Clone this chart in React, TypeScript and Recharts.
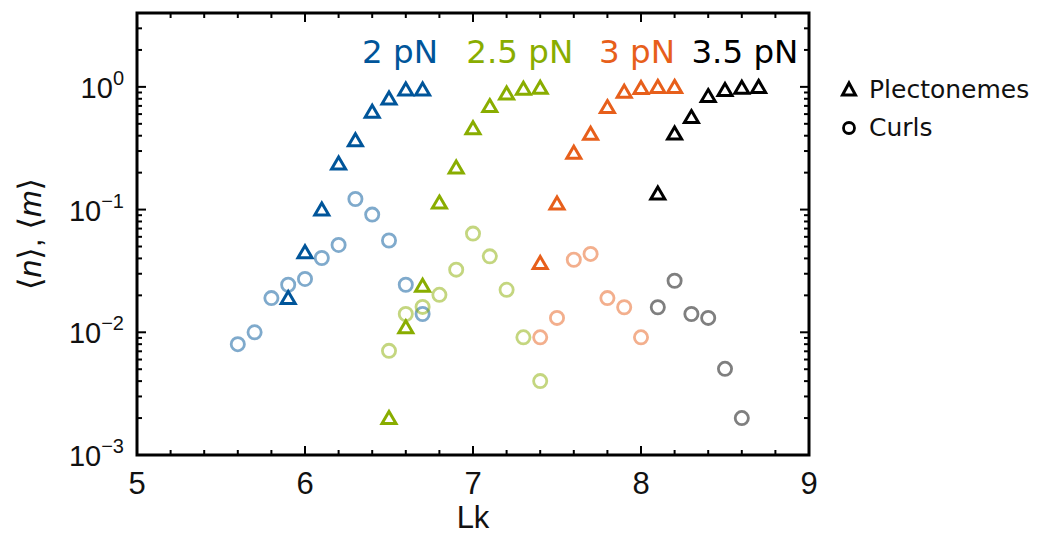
import React from 'react';
import {
  ScatterChart,
  Scatter,
  XAxis,
  YAxis,
  ReferenceArea,
  ReferenceDot,
  Legend,
} from 'recharts';

// Lk values and mean plectoneme (n) / curl (m) numbers, per force
const lk2Plect = [5.9, 6.0, 6.1, 6.2, 6.3, 6.4, 6.5, 6.6, 6.7];
const n2 = [0.019, 0.045, 0.1, 0.237, 0.368, 0.627, 0.805, 0.954, 0.954];
const lk2Curl = [5.6, 5.7, 5.8, 5.9, 6.0, 6.1, 6.2, 6.3, 6.4, 6.5, 6.6, 6.7];
const m2 = [0.008, 0.01, 0.019, 0.0244, 0.0272, 0.0403, 0.0515, 0.122, 0.091, 0.056, 0.0244, 0.0141];

const lk25Plect = [6.5, 6.6, 6.7, 6.8, 6.9, 7.0, 7.1, 7.2, 7.3, 7.4];
const n25 = [0.002, 0.011, 0.024, 0.114, 0.22, 0.46, 0.697, 0.885, 0.966, 0.985];
const lk25Curl = [6.5, 6.6, 6.7, 6.8, 6.9, 7.0, 7.1, 7.2, 7.3, 7.4];
const m25 = [0.00706, 0.0141, 0.0161, 0.0202, 0.0324, 0.0637, 0.0416, 0.0222, 0.0091, 0.004];

const lk3Plect = [7.4, 7.5, 7.6, 7.7, 7.8, 7.9, 8.0, 8.1, 8.2];
const n3 = [0.0367, 0.112, 0.29, 0.415, 0.684, 0.914, 0.978, 1.0, 1.0];
const lk3Curl = [7.4, 7.5, 7.6, 7.7, 7.8, 7.9, 8.0];
const m3 = [0.0091, 0.0131, 0.039, 0.0435, 0.019, 0.016, 0.0091];

const lk35Plect = [8.1, 8.2, 8.3, 8.4, 8.5, 8.6, 8.7];
const n35 = [0.135, 0.417, 0.567, 0.841, 0.942, 0.985, 1.0];
const lk35Curl = [8.1, 8.2, 8.3, 8.4, 8.5, 8.6];
const m35 = [0.016, 0.0263, 0.0141, 0.0131, 0.00504, 0.002];

const forceLabels = ['2 pN', '2.5 pN', '3 pN', '3.5 pN'];
const forceColors = ['#00559a', '#89ad00', '#e75f1b', '#000000'];
// where each force label starts (Lk) and its baseline (value)
const forceLabelLk = [6.34, 6.96, 7.75, 8.3];
const forceLabelY = 1.58;

const legendItems = ['Plectonemes', 'Curls'];

const xMajorTicks = [5, 6, 7, 8, 9];
const xTicks = [5, 5.2, 5.4, 5.6, 5.8, 6, 6.2, 6.4, 6.6, 6.8, 7, 7.2, 7.4, 7.6, 7.8, 8, 8.2, 8.4, 8.6, 8.8, 9];
const yMajorTicks = [0.001, 0.01, 0.1, 1];
const yMajorLabels = ['\u22123', '\u22122', '\u22121', '0'];
const yTicks = [
  0.001, 0.002, 0.003, 0.004, 0.005, 0.006, 0.007, 0.008, 0.009,
  0.01, 0.02, 0.03, 0.04, 0.05, 0.06, 0.07, 0.08, 0.09,
  0.1, 0.2, 0.3, 0.4, 0.5, 0.6, 0.7, 0.8, 0.9,
  1, 2, 3,
];

const toPoints = (xs: number[], ys: number[]) => xs.map((lk, i) => ({ lk, v: ys[i] }));

const series = [
  { plect: toPoints(lk2Plect, n2), curl: toPoints(lk2Curl, m2) },
  { plect: toPoints(lk25Plect, n25), curl: toPoints(lk25Curl, m25) },
  { plect: toPoints(lk3Plect, n3), curl: toPoints(lk3Curl, m3) },
  { plect: toPoints(lk35Plect, n35), curl: toPoints(lk35Curl, m35) },
];

const W = 1046;
const H = 536;
const M = { top: 13, right: 237, bottom: 0, left: 0 };
const Y_AXIS_W = 137;
const X_AXIS_H = 81;
const PLOT_LEFT = M.left + Y_AXIS_W;
const PLOT_RIGHT = W - M.right;
const PLOT_TOP = M.top;
const PLOT_BOTTOM = H - X_AXIS_H;

const FONT = '"Liberation Sans", "DejaVu Sans", sans-serif';
const LABEL_FONT = '"DejaVu Sans", sans-serif';

const Triangle = ({ cx, cy, color }: any) => (
  <path
    d={`M${cx},${cy - 6.5} L${cx + 7},${cy + 5.5} L${cx - 7},${cy + 5.5} Z`}
    fill="none"
    stroke={color}
    strokeWidth={3}
    strokeLinejoin="miter"
  />
);

const Ring = ({ cx, cy, color }: any) => (
  <circle cx={cx} cy={cy} r={6.6} fill="none" stroke={color} strokeOpacity={0.5} strokeWidth={2.8} />
);

const XTick = ({ x, payload }: any) => {
  const major = xMajorTicks.includes(payload.value);
  const len = major ? 9 : 5;
  return (
    <g>
      <line x1={x} x2={x} y1={PLOT_BOTTOM} y2={PLOT_BOTTOM - len} stroke="#000" strokeWidth={2} />
      <line x1={x} x2={x} y1={PLOT_TOP} y2={PLOT_TOP + len} stroke="#000" strokeWidth={2} />
      {major && (
        <text x={x} y={PLOT_BOTTOM + 39} textAnchor="middle" fontFamily={FONT} fontSize={31} fill="#111">
          {payload.value}
        </text>
      )}
    </g>
  );
};

const YTick = ({ y, payload }: any) => {
  const idx = yMajorTicks.indexOf(payload.value);
  const major = idx >= 0;
  const len = major ? 9 : 5;
  return (
    <g>
      <line x1={PLOT_LEFT} x2={PLOT_LEFT + len} y1={y} y2={y} stroke="#000" strokeWidth={2} />
      <line x1={PLOT_RIGHT} x2={PLOT_RIGHT - len} y1={y} y2={y} stroke="#000" strokeWidth={2} />
      {major && (
        <text x={PLOT_LEFT - 13} y={y + 11} textAnchor="end" fontFamily={FONT} fontSize={29} fill="#111">
          10
          <tspan dy={-13} fontSize={20}>
            {yMajorLabels[idx]}
          </tspan>
        </text>
      )}
    </g>
  );
};

const LegendBox = () => (
  <div style={{ fontFamily: LABEL_FONT, fontSize: 25, color: '#111', lineHeight: '38px' }}>
    {legendItems.map((name, i) => (
      <div key={name} style={{ display: 'flex', alignItems: 'center' }}>
        <svg width={24} height={24} style={{ marginRight: 8 }}>
          {i === 0 ? (
            <path d="M12,5 L18.5,17 L5.5,17 Z" fill="none" stroke="#000" strokeWidth={3} />
          ) : (
            <circle cx={12} cy={12} r={5.5} fill="none" stroke="#000" strokeWidth={2.8} />
          )}
        </svg>
        {name}
      </div>
    ))}
  </div>
);

const App: React.FC = () => {
  return (
    <div style={{ position: 'absolute', left: 0, top: 0, background: '#fff' }}>
      <ScatterChart width={W} height={H} margin={M}>
        <XAxis
          type="number"
          dataKey="lk"
          domain={[5, 9]}
          ticks={xTicks}
          interval={0}
          tick={(p: any) => <XTick {...p} />}
          tickLine={false}
          axisLine={false}
          height={X_AXIS_H}
          allowDataOverflow
          label={{
            content: ({ viewBox }: any) => (
              <text
                x={viewBox.x + viewBox.width / 2}
                y={PLOT_BOTTOM + 73}
                textAnchor="middle"
                fontFamily={FONT}
                fontSize={31}
                fill="#111"
              >
                Lk
              </text>
            ),
          }}
        />
        <YAxis
          type="number"
          dataKey="v"
          scale="log"
          domain={[0.001, 4]}
          ticks={yTicks}
          interval={0}
          tick={(p: any) => <YTick {...p} />}
          tickLine={false}
          axisLine={false}
          width={Y_AXIS_W}
          allowDataOverflow
          label={{
            content: ({ viewBox }: any) => {
              const cy = viewBox.y + viewBox.height / 2;
              return (
                <text
                  x={30}
                  y={cy}
                  transform={`rotate(-90, 30, ${cy})`}
                  textAnchor="middle"
                  dominantBaseline="central"
                  fontFamily={FONT}
                  fontSize={32}
                  fill="#111"
                >
                  {'\u27e8'}
                  <tspan fontStyle="italic">n</tspan>
                  {'\u27e9, \u27e8'}
                  <tspan fontStyle="italic">m</tspan>
                  {'\u27e9'}
                </text>
              );
            },
          }}
        />
        <ReferenceArea
          x1={5}
          x2={9}
          y1={0.001}
          y2={4}
          fill="none"
          fillOpacity={0}
          stroke="#000"
          strokeWidth={3}
          ifOverflow="visible"
        />
        {series.map((s, i) => (
          <Scatter
            key={`c${i}`}
            data={s.curl}
            isAnimationActive={false}
            shape={(p: any) => <Ring cx={p.cx} cy={p.cy} color={forceColors[i]} />}
          />
        ))}
        {series.map((s, i) => (
          <Scatter
            key={`p${i}`}
            data={s.plect}
            isAnimationActive={false}
            shape={(p: any) => <Triangle cx={p.cx} cy={p.cy} color={forceColors[i]} />}
          />
        ))}
        {forceLabels.map((txt, i) => (
          <ReferenceDot
            key={txt}
            x={forceLabelLk[i]}
            y={forceLabelY}
            r={1}
            fill="none"
            stroke="none"
            label={{
              content: ({ viewBox }: any) => (
                <text
                  x={viewBox.x + viewBox.width / 2}
                  y={viewBox.y + viewBox.height / 2}
                  fontFamily={LABEL_FONT}
                  fontSize={32.5}
                  fill={forceColors[i]}
                >
                  {txt}
                </text>
              ),
            }}
          />
        ))}
        <Legend
          layout="horizontal"
          verticalAlign="middle"
          align="center"
          content={() => <LegendBox />}
          wrapperStyle={{ position: 'absolute', left: 837, top: 71, width: 209, height: 80 }}
        />
      </ScatterChart>
    </div>
  );
};

export default App;
